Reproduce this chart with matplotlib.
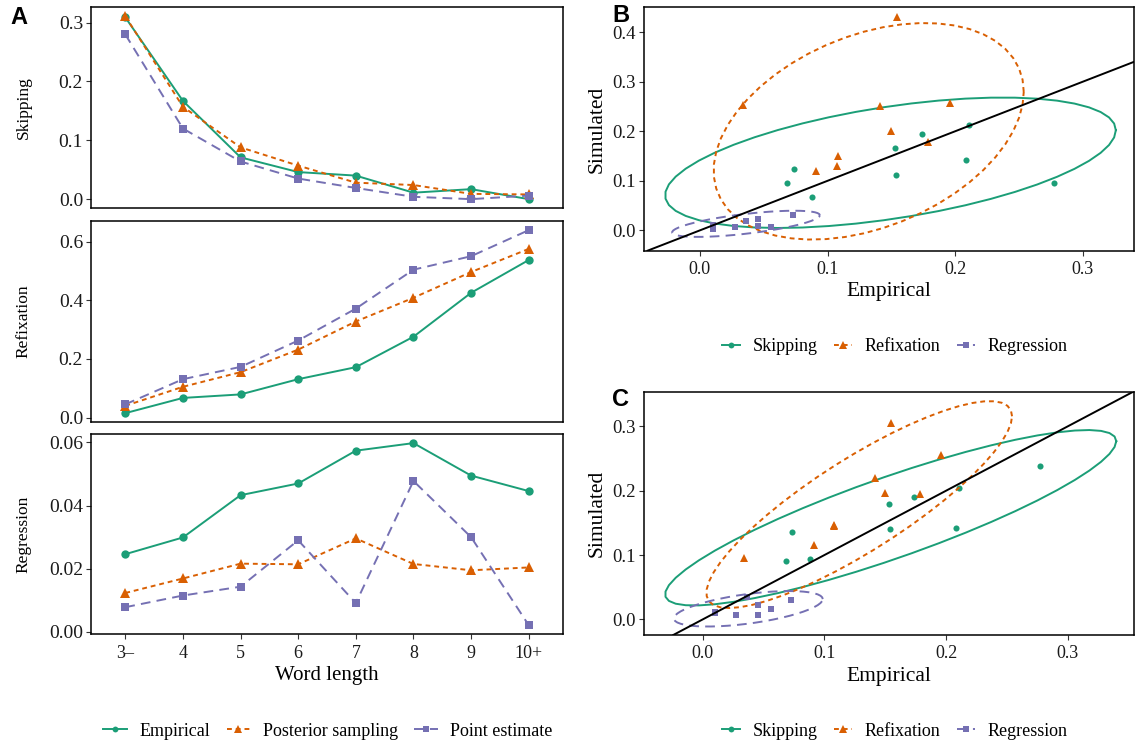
import matplotlib
matplotlib.use("Agg")
import matplotlib.pyplot as plt
from matplotlib.lines import Line2D
import numpy as np

plt.rcParams['font.family'] = ['Liberation Serif', 'DejaVu Serif']

# word length bins
duljine = ["3\u2013", "4", "5", "6", "7", "8", "9", "10+"]

# skipping rate by word length
skip_emp = [0.309, 0.167, 0.071, 0.046, 0.040, 0.011, 0.017, 0.000]
skip_post = [0.311, 0.157, 0.088, 0.057, 0.028, 0.024, 0.009, 0.008]
skip_tocka = [0.280, 0.120, 0.064, 0.035, 0.019, 0.004, 0.000, 0.006]

# refixation rate by word length
refix_emp = [0.015, 0.067, 0.079, 0.131, 0.172, 0.276, 0.426, 0.538]
refix_post = [0.040, 0.105, 0.155, 0.232, 0.328, 0.409, 0.497, 0.576]
refix_tocka = [0.045, 0.131, 0.173, 0.263, 0.372, 0.505, 0.551, 0.640]

# regression rate by word length
regr_emp = [0.0246, 0.0299, 0.0433, 0.0470, 0.0574, 0.0598, 0.0495, 0.0446]
regr_post = [0.0123, 0.0169, 0.0216, 0.0214, 0.0296, 0.0215, 0.0195, 0.0204]
regr_tocka = [0.0078, 0.0115, 0.0143, 0.0290, 0.0091, 0.0478, 0.0300, 0.0021]

# empirical vs simulated, point estimate (B) and posterior sampling (C)
skip_x = [0.0686, 0.0735, 0.0881, 0.1530, 0.1537, 0.1737, 0.2081, 0.2107, 0.2770]
skip_b = [0.0955, 0.1237, 0.0670, 0.1660, 0.1116, 0.1940, 0.1420, 0.2124, 0.0955]
skip_c = [0.0907, 0.1352, 0.0938, 0.1788, 0.1404, 0.1900, 0.1420, 0.2047, 0.2383]

refix_x = [0.0340, 0.0912, 0.1075, 0.1080, 0.1412, 0.1500, 0.1545, 0.1788, 0.1958]
refix_b = [0.2520, 0.1190, 0.1300, 0.1500, 0.2500, 0.2000, 0.4300, 0.1790, 0.2570]
refix_c = [0.0953, 0.1160, 0.1450, 0.1470, 0.2200, 0.1970, 0.3057, 0.1950, 0.2550]

regr_x = [0.0100, 0.0100, 0.0275, 0.0360, 0.0453, 0.0453, 0.0557, 0.0728]
regr_b = [0.0103, 0.0030, 0.0061, 0.0194, 0.0229, 0.0093, 0.0073, 0.0310]
regr_c = [0.0120, 0.0098, 0.0072, 0.0342, 0.0223, 0.0072, 0.0165, 0.0300]

boje = ["#1B9E77", "#D95F02", "#7570B3"]
stilovi = ["-", (0, (2.5, 2.0)), (0, (5.0, 3.2))]
markeri = ["o", "^", "s"]
velicine = [6.0, 7.0, 5.8]

W, H = 1135, 744
fig = plt.figure(figsize=(W / 100, H / 100), dpi=100)


def okvir(l, t, r, b):
    return [l / W, 1 - b / H, (r - l) / W, (b - t) / H]


def uredi_os(ax, vel_x, vel_y):
    for s in ax.spines.values():
        s.set_linewidth(1.1)
        s.set_color("black")
    ax.tick_params(direction="out", length=3.5, width=0.8, color="#333333",
                   labelcolor="#1a1a1a")
    ax.tick_params(axis="x", labelsize=vel_x, pad=4)
    ax.tick_params(axis="y", labelsize=vel_y, pad=2)


# robust t covariance, same steps as MASS::cov.trob
def cov_trob(X, nu=5, maxit=25, tol=0.01):
    n, p = X.shape
    loc = X.mean(axis=0)
    w = np.ones(n)
    for _ in range(maxit):
        w0 = w
        Xc = X - loc
        _, d, Vt = np.linalg.svd(np.sqrt(w / w.sum())[:, None] * Xc, full_matrices=False)
        wX = Xc @ Vt.T @ np.diag(1 / d)
        Q = (wX ** 2).sum(axis=1)
        w = (nu + p) / (nu + Q)
        loc = (w[:, None] * X).sum(axis=0) / w.sum()
        if np.all(np.abs(w - w0) < tol):
            break
    cov = (np.sqrt(w)[:, None] * Xc).T @ (np.sqrt(w)[:, None] * Xc) / n
    return loc, cov


# 95% ellipse like stat_ellipse(type = "t")
def elipsa(x, y, razina=0.95, segmenti=51):
    X = np.column_stack([x, y])
    centar, cov = cov_trob(X)
    d = len(x) - 1
    fkv = (d / 2) * ((1 - razina) ** (-2 / d) - 1)
    r = np.sqrt(2 * fkv)
    kut = np.linspace(0, 2 * np.pi, segmenti + 1)
    krug = np.column_stack([np.cos(kut), np.sin(kut)])
    R = np.linalg.cholesky(cov).T
    e = centar + r * krug @ R
    return e[:, 0], e[:, 1]


# panel A: three rates by word length
paneli = [
    ("Skipping", [skip_emp, skip_post, skip_tocka], [0.0, 0.1, 0.2, 0.3], "%.1f", (7, 208.3)),
    ("Refixation", [refix_emp, refix_post, refix_tocka], [0.0, 0.2, 0.4, 0.6], "%.1f", (221, 422.3)),
    ("Regression", [regr_emp, regr_post, regr_tocka], [0.00, 0.02, 0.04, 0.06], "%.2f", (434, 634.3)),
]
xpoz = np.arange(len(duljine))
for ime, serije, yt, fmt, (t, b) in paneli:
    ax = fig.add_axes(okvir(90.7, t, 563.3, b))
    for vals, c, ls, m, ms in zip(serije, boje, stilovi, markeri, velicine):
        ax.plot(xpoz, vals, color=c, linestyle=ls, linewidth=1.4, marker=m,
                markersize=ms, markeredgewidth=0)
    svi = np.concatenate(serije)
    raspon = svi.max() - svi.min()
    ax.set_ylim(svi.min() - 0.05 * raspon, svi.max() + 0.05 * raspon)
    ax.set_xlim(-0.6, len(duljine) - 0.4)
    ax.set_yticks(yt)
    ax.set_yticklabels([fmt % v for v in yt])
    ax.set_xticks(xpoz)
    uredi_os(ax, 13, 14)
    ax.set_ylabel(ime, fontsize=12.5)
    ax.yaxis.set_label_coords(-0.125, 0.5)
    if ime == "Regression":
        ax.set_xticklabels(duljine)
        ax.set_xlabel("Word length", fontsize=15, labelpad=3)
    else:
        ax.tick_params(axis="x", bottom=False, labelbottom=False)

# panels B and C: empirical vs simulated
grupe_x = [skip_x, refix_x, regr_x]
rasprsi = [
    ([skip_b, refix_b, regr_b], (7.3, 250.7), (-0.044, 0.340), (-0.041, 0.45), [0.0, 0.1, 0.2, 0.3, 0.4]),
    ([skip_c, refix_c, regr_c], (391.7, 635), (-0.0487, 0.3546), (-0.0244, 0.354), [0.0, 0.1, 0.2, 0.3]),
]
for ys, (t, b), xl, yl, yt in rasprsi:
    ax = fig.add_axes(okvir(643.7, t, 1134, b))
    for gx, gy, c, ls, m, ms in zip(grupe_x, ys, boje, stilovi, markeri, velicine):
        ax.plot(gx, gy, linestyle="none", marker=m, markersize=ms - 1.6,
                color=c, markeredgewidth=0)
        ex, ey = elipsa(gx, gy)
        ax.plot(ex, ey, color=c, linestyle=ls, linewidth=1.4)
    ax.axline((0, 0), slope=1, color="black", linewidth=1.4, zorder=5)
    ax.set_xlim(*xl)
    ax.set_ylim(*yl)
    ax.set_xticks([0.0, 0.1, 0.2, 0.3])
    ax.set_yticks(yt)
    ax.xaxis.set_major_formatter("{x:.1f}")
    ax.yaxis.set_major_formatter("{x:.1f}")
    uredi_os(ax, 13, 13.5)
    ax.set_xlabel("Empirical", fontsize=15.5, labelpad=3)
    ax.set_ylabel("Simulated", fontsize=15.5, labelpad=4)

# panel letters
for slovo, x, y in [("A", 10, 6), ("B", 612, 4), ("C", 612, 388)]:
    fig.text(x / W, 1 - y / H, slovo, fontsize=17, fontweight="bold",
             family="Liberation Sans", va="top", ha="left")


def kljucevi(imena):
    return [Line2D([], [], color=c, linestyle=ls, linewidth=1.4, marker=m,
                   markersize=ms - 1.8, markeredgewidth=0, label=n)
            for c, ls, m, ms, n in zip(boje, stilovi, markeri, velicine, imena)]


fig.legend(handles=kljucevi(["Empirical", "Posterior sampling", "Point estimate"]),
           loc="center", bbox_to_anchor=(328 / W, 1 - 731 / H), ncol=3, frameon=False,
           fontsize=13, handlelength=1.3, handletextpad=0.7, columnspacing=0.9)
for yc in [347, 731]:
    fig.legend(handles=kljucevi(["Skipping", "Refixation", "Regression"]),
               loc="center", bbox_to_anchor=(895 / W, 1 - yc / H), ncol=3, frameon=False,
               fontsize=13, handlelength=1.0, handletextpad=0.7, columnspacing=0.9)

fig.savefig("out.png", dpi=100)
